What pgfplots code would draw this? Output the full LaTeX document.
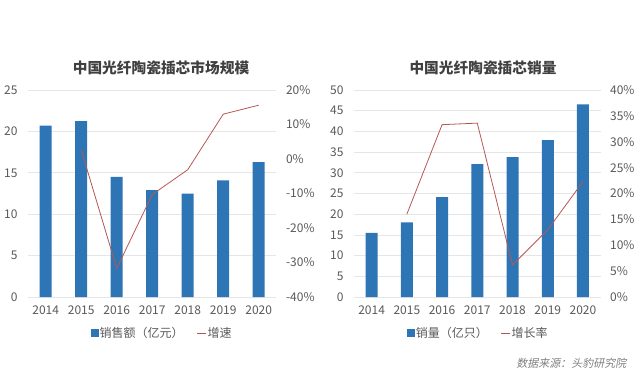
\documentclass[border=0pt]{standalone}
\usepackage{pgfplots}
\pgfplotsset{compat=1.18}
\usepackage{fontspec}
\setmainfont{Noto Sans CJK SC}
\newfontfamily\cjkit[FakeSlant=0.2]{Noto Sans CJK SC}
\definecolor{barblue}{HTML}{2E75B6}
\definecolor{linered}{RGB}{180,88,84}
\definecolor{ticktxt}{HTML}{595959}
\definecolor{titletxt}{HTML}{404040}
\definecolor{gridc}{HTML}{E6E6E6}
\pgfplotsset{
  base/.style={
    scale only axis, anchor=south west,
    xmin=-0.5, xmax=6.5,
    axis line style={draw=none},
    major tick length=0pt,
    tick label style={font=\fontsize{12}{14}\selectfont, color=ticktxt},
    /pgf/number format/assume math mode=true,
  },
  barax/.style={base,
    ymajorgrids, grid style={gridc, line width=0.7pt},
    xtick={0,...,6}, xticklabels={2014,2015,2016,2017,2018,2019,2020},
    xticklabel style={yshift=-5pt},
    yticklabel style={anchor=east, xshift=-7pt},
  },
  lineax/.style={base,
    axis y line*=right, axis x line=none,
    yticklabel style={anchor=west, xshift=6pt},
    legend style={draw=none, fill=none, font=\fontsize{12}{14}\selectfont, text=ticktxt,
      legend columns=2, anchor=center,
      /tikz/every even column/.append style={column sep=12pt},
      nodes={inner sep=1pt}},
  },
  barleg/.style={legend image code/.code={\fill[barblue] (0pt,-3.5pt) rectangle (7pt,3.5pt);}},
  lineleg/.style={legend image code/.code={\draw[linered, line width=0.8pt] (0pt,0pt) -- (9pt,0pt);}},
}
\begin{document}
\begin{tikzpicture}
\path[use as bounding box] (0pt,0pt) rectangle (640pt,386pt);
% ---------- left chart ----------
\begin{axis}[barax, at={(28pt,89pt)}, width=248.5pt, height=207pt,
  ymin=0, ymax=25, ytick={0,5,10,15,20,25}]
\addplot[ybar, bar width=12pt, fill=barblue, draw=none] coordinates {
 (0,20.7) (1,21.25) (2,14.5) (3,12.9) (4,12.5) (5,14.1) (6,16.3)};
\end{axis}
\begin{axis}[lineax, at={(28pt,89pt)}, width=248.5pt, height=207pt,
  ymin=-40, ymax=20, ytick={-40,-30,-20,-10,0,10,20},
  yticklabels={-40\%,-30\%,-20\%,-10\%,0\%,10\%,20\%},
  legend style={at={(0.539,-0.174)}}]
\addlegendimage{barleg}
\addlegendentry{销售额（亿元）}
\addplot[linered, line width=0.8pt, mark=none, forget plot] coordinates {
 (1,2.6) (2,-31.7) (3,-10.3) (4,-3.1) (5,13.0) (6,15.6)};
\addlegendimage{lineleg}
\addlegendentry{增速}
\end{axis}
\node[font=\bfseries\fontsize{14.7}{16}\selectfont, text=titletxt] at (161pt,318pt) {中国光纤陶瓷插芯市场规模};
% ---------- right chart ----------
\begin{axis}[barax, at={(354pt,89pt)}, width=246.6pt, height=207pt,
  ymin=0, ymax=50, ytick={0,5,...,50}]
\addplot[ybar, bar width=12pt, fill=barblue, draw=none] coordinates {
 (0,15.5) (1,18.0) (2,24.1) (3,32.1) (4,33.8) (5,37.9) (6,46.5)};
\end{axis}
\begin{axis}[lineax, at={(354pt,89pt)}, width=246.6pt, height=207pt,
  ymin=0, ymax=40, ytick={0,5,...,40},
  yticklabels={0\%,5\%,10\%,15\%,20\%,25\%,30\%,35\%,40\%},
  legend style={at={(0.503,-0.174)}}]
\addlegendimage{barleg}
\addlegendentry{销量（亿只）}
\addplot[linered, line width=0.8pt, mark=none, forget plot] coordinates {
 (1,16.0) (2,33.3) (3,33.6) (4,6.2) (5,13.0) (6,22.3)};
\addlegendimage{lineleg}
\addlegendentry{增长率}
\end{axis}
\node[font=\bfseries\fontsize{14.7}{16}\selectfont, text=titletxt] at (483pt,318pt) {中国光纤陶瓷插芯销量};
% source
\node[anchor=east, font=\cjkit\fontsize{11}{13}\selectfont, text=gray] at (630pt,23pt) {数据来源：头豹研究院};
\end{tikzpicture}
\end{document}
